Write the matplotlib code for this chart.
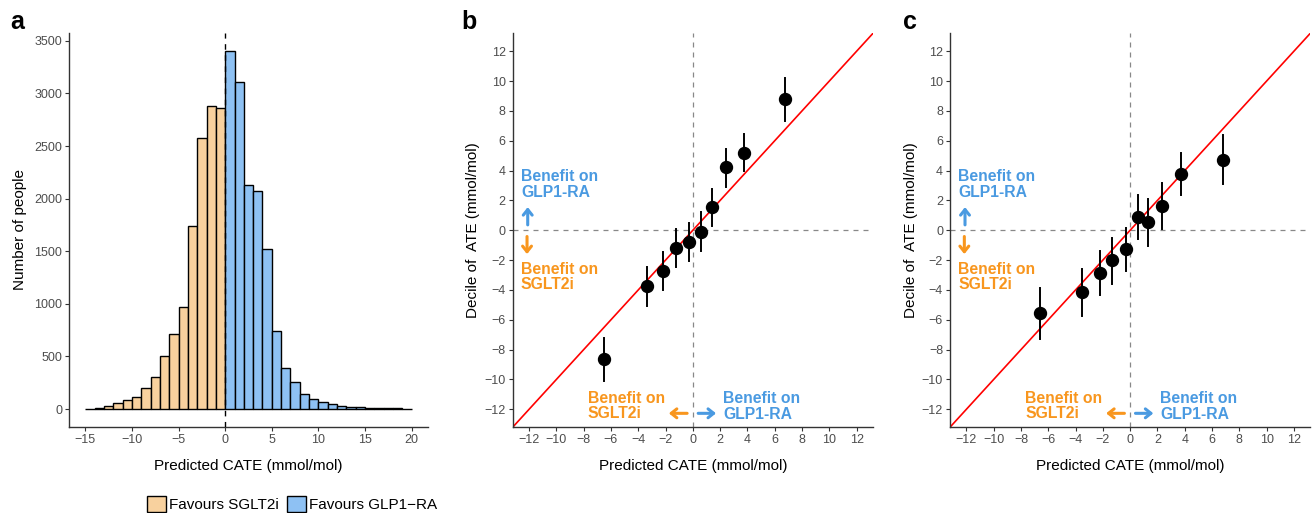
import matplotlib
matplotlib.use("Agg")
import matplotlib.pyplot as plt
from matplotlib.patches import Patch, FancyArrowPatch
import numpy as np

plt.rcParams['font.family'] = ['Liberation Sans', 'DejaVu Sans']

# ---------------- data ----------------
bin_edges = list(range(-15, 21))
counts = [5, 13, 32, 57, 83, 114, 200, 305, 502, 718, 975, 1737, 2575, 2877, 2858,
          3404, 3112, 2128, 2077, 1524, 746, 394, 254, 140, 95, 67, 51, 25, 22, 22,
          13, 10, 10, 6, 3]
legend_labels = ["Favours SGLT2i", "Favours GLP1\u2212RA"]
fill_colors = ["#F8D19E", "#8EC1F3"]

b_x = [-6.48, -3.37, -2.20, -1.25, -0.27, 0.59, 1.37, 2.42, 3.74, 6.77]
b_y = [-8.65, -3.75, -2.73, -1.18, -0.78, -0.09, 1.56, 4.22, 5.21, 8.78]
b_lo = [-10.08, -5.05, -4.00, -2.44, -2.06, -1.39, 0.29, 2.93, 3.96, 7.35]
b_hi = [-7.24, -2.44, -1.43, 0.07, 0.47, 1.21, 2.77, 5.45, 6.44, 10.19]

c_x = [-6.63, -3.55, -2.20, -1.30, -0.32, 0.56, 1.32, 2.35, 3.69, 6.82]
c_y = [-5.54, -4.13, -2.86, -2.01, -1.25, 0.89, 0.56, 1.63, 3.80, 4.72]
c_lo = [-7.26, -5.72, -4.34, -3.58, -2.73, -0.56, -1.03, 0.09, 2.39, 3.08]
c_hi = [-3.84, -2.57, -1.39, -0.51, 0.16, 2.37, 2.10, 3.17, 5.18, 6.37]

cal_ticks = list(range(-12, 13, 2))
hist_xticks = [-15, -10, -5, 0, 5, 10, 15, 20]
hist_yticks = [0, 500, 1000, 1500, 2000, 2500, 3000, 3500]

BLUE = "#4A9AE1"
ORANGE = "#F8961E"
TICKC = "#4D4D4D"
TICK_FS = 9.0
LAB_FS = 11.0

W, H = 1312, 513
fig = plt.figure(figsize=(W / 100, H / 100), dpi=100)


def px_axes(l, r, t, b):
    return fig.add_axes([l / W, (H - b) / H, (r - l) / W, (b - t) / H])


def style(ax):
    for s in ['top', 'right']:
        ax.spines[s].set_visible(False)
    for s in ['left', 'bottom']:
        ax.spines[s].set_color('#333333')
        ax.spines[s].set_linewidth(1.0)
    ax.tick_params(axis='both', colors='#333333', labelcolor=TICKC,
                   labelsize=TICK_FS, length=3, width=0.8, direction='out', pad=2)


# ---------------- panel a ----------------
axa = px_axes(69, 428, 33, 427)
lefts = bin_edges[:-1]
cols = [fill_colors[0] if x < 0 else fill_colors[1] for x in lefts]
axa.bar(lefts, counts, width=1, align='edge', color=cols, edgecolor='black',
        linewidth=1.0, zorder=2)
axa.axvline(0, color='black', linestyle=(0, (4, 4)), linewidth=1.0, zorder=3)
axa.set_xlim(-16.75, 21.75)
axa.set_ylim(-170, 3574)
axa.set_xticks(hist_xticks)
axa.set_yticks(hist_yticks)
style(axa)
axa.set_xlabel("Predicted CATE (mmol/mol)", fontsize=LAB_FS, labelpad=9.5)
axa.set_ylabel("Number of people", fontsize=LAB_FS, labelpad=5)

handles = [Patch(facecolor=fill_colors[i], edgecolor='black', linewidth=1.0,
                 label=legend_labels[i]) for i in range(2)]
fig.legend(handles=handles, loc='center', bbox_to_anchor=(292 / W, 9 / H),
           ncol=2, frameon=False, fontsize=LAB_FS, handlelength=1.25,
           handleheight=1.25, handletextpad=0.2, columnspacing=0.5,
           borderpad=0.1)


# ---------------- calibration panels ----------------
def arrow(ax, x0, y0, x1, y1, color):
    ax.add_patch(FancyArrowPatch((x0, y0), (x1, y1),
                                 arrowstyle='->,head_length=4,head_width=3.2',
                                 color=color, linewidth=2.2, zorder=5,
                                 shrinkA=0, shrinkB=0))


def calib(ax, xs, ys, lo, hi):
    lim = 13.2
    ax.plot([-lim, lim], [-lim, lim], color='#FF0000', linewidth=1.2, zorder=2)
    ax.axhline(0, color='#888888', linestyle=(0, (4, 4)), linewidth=0.9, zorder=1)
    ax.axvline(0, color='#888888', linestyle=(0, (4, 4)), linewidth=0.9, zorder=1)
    for x, l, h in zip(xs, lo, hi):
        ax.plot([x, x], [l, h], color='black', linewidth=1.4, zorder=3)
    ax.plot(xs, ys, 'o', color='black', markersize=8.6, zorder=4)
    ax.set_xlim(-lim, lim)
    ax.set_ylim(-lim, lim)
    ax.set_xticks(cal_ticks)
    ax.set_yticks(cal_ticks)
    style(ax)
    ax.set_xlabel("Predicted CATE (mmol/mol)", fontsize=LAB_FS, labelpad=9.5)
    ax.set_ylabel("Decile of  ATE (mmol/mol)", fontsize=LAB_FS, labelpad=3)

    kw = dict(fontsize=11.3, fontweight='bold', ha='left', va='center',
              linespacing=1.06, zorder=6)
    ax.text(-12.6, 3.07, "Benefit on\nGLP1-RA", color=BLUE, **kw)
    ax.text(-12.6, -3.13, "Benefit on\nSGLT2i", color=ORANGE, **kw)
    ax.text(-7.7, -11.77, "Benefit on\nSGLT2i", color=ORANGE, **kw)
    ax.text(2.2, -11.8, "Benefit on\nGLP1-RA", color=BLUE, **kw)
    arrow(ax, -12.1, 0.36, -12.1, 1.55, BLUE)
    arrow(ax, -12.15, -0.42, -12.15, -1.6, ORANGE)
    arrow(ax, -0.42, -12.27, -1.76, -12.27, ORANGE)
    arrow(ax, 0.39, -12.27, 1.7, -12.27, BLUE)


axb = px_axes(512.7, 873, 33.3, 427.2)
calib(axb, b_x, b_y, b_lo, b_hi)
axc = px_axes(950, 1310.3, 33.3, 427.2)
calib(axc, c_x, c_y, c_lo, c_hi)

# panel letters
for lab, x in [("a", 10), ("b", 461), ("c", 903)]:
    fig.text(x / W, 1 - 22 / H, lab, fontsize=18, fontweight='bold',
             ha='left', va='center')

fig.savefig("out.png", dpi=100)
